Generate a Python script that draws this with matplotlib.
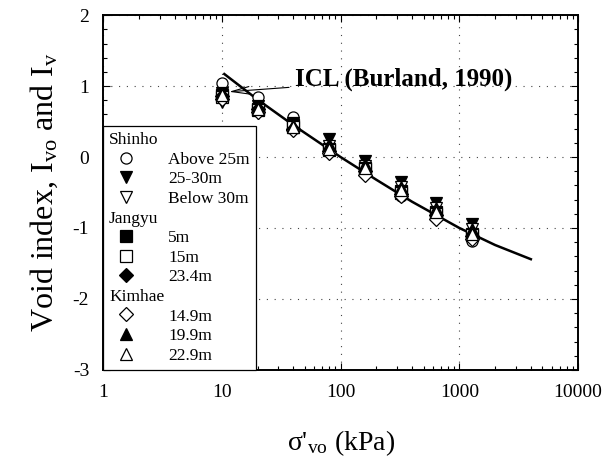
import numpy as np
import matplotlib
matplotlib.use("Agg")
import matplotlib.pyplot as plt
from matplotlib.lines import Line2D
from matplotlib.ticker import MultipleLocator, LogLocator, NullFormatter, FixedLocator, FixedFormatter

plt.rcParams["font.family"] = ["Liberation Serif", "DejaVu Serif"]
plt.rcParams["mathtext.fontset"] = "custom"
plt.rcParams["mathtext.rm"] = "Liberation Serif"
plt.rcParams["mathtext.it"] = "Liberation Serif"
plt.rcParams["axes.unicode_minus"] = False

# effective vertical stress (kPa)
stress = [10, 20, 40, 80, 160, 320, 640, 1280]

# void index values
shinho_above25 = [1.05, 0.85, 0.57, 0.08, -0.22, -0.55, -0.85, -1.18]
shinho_25_30 = [0.90, 0.72, 0.48, 0.25, -0.05, -0.35, -0.65, -0.95]
shinho_below30 = [0.78, 0.62, 0.40, 0.15, -0.12, -0.42, -0.72, -1.02]
jangyu_5 = [0.88, 0.68, 0.45, 0.12, -0.15, -0.48, -0.78, -1.08]
jangyu_15 = [0.85, 0.66, 0.43, 0.10, -0.17, -0.50, -0.80, -1.10]
jangyu_234 = [0.86, 0.67, 0.40, 0.08, -0.20, -0.52, -0.82, -1.12]
kimhae_149 = [0.82, 0.63, 0.38, 0.05, -0.25, -0.55, -0.88, -1.15]
kimhae_199 = [0.90, 0.70, 0.45, 0.18, -0.10, -0.42, -0.72, -1.02]
kimhae_229 = [0.87, 0.67, 0.42, 0.12, -0.15, -0.47, -0.78, -1.08]

# intrinsic compression line (Burland, 1990)
icl_stress = [10.5, 20, 40, 100, 200, 400, 1000, 2000, 4000]
icl_iv = [1.17, 0.81, 0.45, 0.0, -0.32, -0.63, -1.0, -1.24, -1.44]

groups = [
    ("Shinho", [("Above 25m", shinho_above25, "o", "white"),
                ("25-30m", shinho_25_30, "v", "black"),
                ("Below 30m", shinho_below30, "v", "white")]),
    ("Jangyu", [("5m", jangyu_5, "s", "black"),
                ("15m", jangyu_15, "s", "white"),
                ("23.4m", jangyu_234, "D", "black")]),
    ("Kimhae", [("14.9m", kimhae_149, "D", "white"),
                ("19.9m", kimhae_199, "^", "black"),
                ("22.9m", kimhae_229, "^", "white")]),
]

fig = plt.figure(figsize=(6.06, 4.73), dpi=100)
ax = fig.add_axes([0.170, 0.218, 0.784, 0.750])

ax.plot(icl_stress, icl_iv, color="black", lw=1.8, zorder=2)

handles = []
labels = []
headers = []
for name, series in groups:
    headers.append(len(handles))
    handles.append(Line2D([], [], linestyle="none"))
    labels.append(name)
    for lab, vals, mk, fc in series:
        ms = 7 if mk == "D" else 8
        ax.plot(stress, vals, linestyle="none", marker=mk, ms=ms,
                markerfacecolor=fc, markeredgecolor="black",
                markeredgewidth=0.9, zorder=3)
        handles.append(Line2D([], [], linestyle="none", marker=mk, ms=ms,
                              markerfacecolor=fc, markeredgecolor="black",
                              markeredgewidth=0.9))
        labels.append(lab)

ax.set_xscale("log")
ax.set_xlim(1, 10000)
ax.set_ylim(-3, 2)

ax.xaxis.set_major_locator(FixedLocator([1, 10, 100, 1000, 10000]))
ax.xaxis.set_major_formatter(FixedFormatter(["1", "10", "100", "1000", "10000"]))
ax.xaxis.set_minor_locator(LogLocator(base=10, subs=np.arange(2, 10)))
ax.xaxis.set_minor_formatter(NullFormatter())
ax.yaxis.set_major_locator(MultipleLocator(1))
ax.yaxis.set_minor_locator(MultipleLocator(0.2))

ax.tick_params(which="both", direction="in", top=True, right=True,
               labelsize=14, width=0.8)
ax.tick_params(which="major", length=5, pad=10)
ax.tick_params(which="minor", length=3)
for s in ax.spines.values():
    s.set_linewidth(1.4)

ax.grid(which="major", linestyle=(0, (1, 6)), color="#444444", linewidth=0.8)

ax.set_xlabel(r"σ'$_{\mathregular{vo}}$ (kPa)", fontsize=20, labelpad=20)
ax.set_ylabel(r"Void index, I$_{\mathregular{vo}}$ and I$_{\mathregular{v}}$",
              fontsize=23, labelpad=9)

ax.annotate("ICL (Burland, 1990)", xy=(11.5, 0.92), xytext=(41, 1.10),
            fontsize=18, fontweight="bold", va="center",
            arrowprops=dict(arrowstyle="->,head_length=0.7,head_width=0.15",
                            color="black", lw=0.8, shrinkA=2, shrinkB=0))

leg = ax.legend(handles, labels, loc="lower left", bbox_to_anchor=(0.0, 0.0),
                fontsize=12.5, frameon=True, fancybox=False, edgecolor="black",
                framealpha=1, borderaxespad=0, handlelength=2.0,
                handletextpad=1.4, labelspacing=0.2, borderpad=0.35)
leg.get_frame().set_linewidth(0.9)

# group names sit at the left edge of the box, without a marker slot
try:
    rows = leg._legend_handle_box.get_children()[0].get_children()
    for i in headers:
        rows[i]._children = [rows[i].get_children()[1]]
except Exception:
    pass

fig.savefig("out.png", dpi=100)
